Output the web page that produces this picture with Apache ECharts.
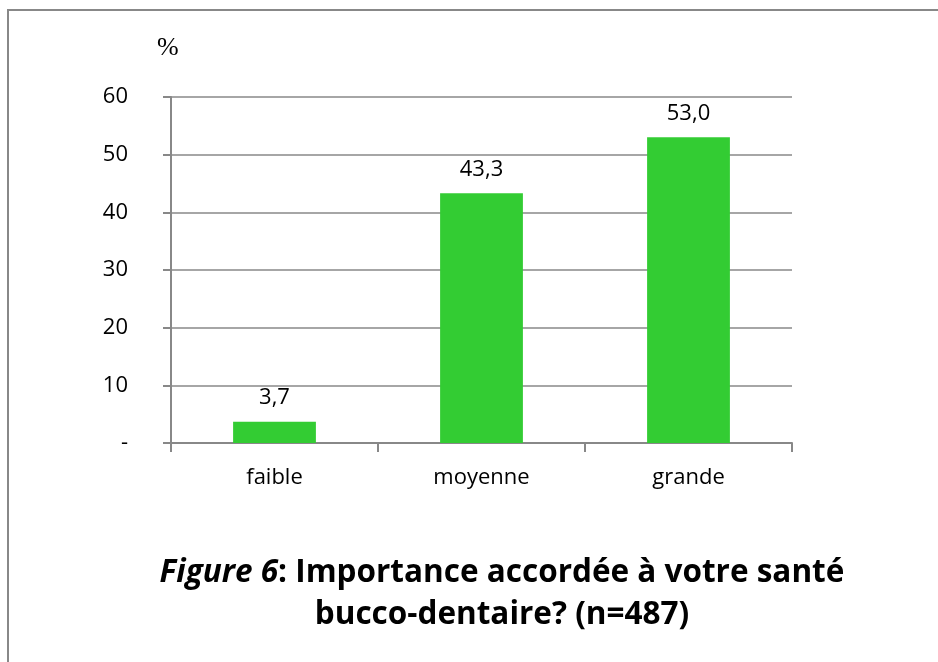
<!DOCTYPE html>
<html>
<head>
<meta charset="utf-8">
<title>Figure 6</title>
<script src="https://cdn.jsdelivr.net/npm/echarts@6/dist/echarts.min.js"></script>
<style>
  html, body { margin: 0; padding: 0; background: #fff; }
  #main { width: 938px; height: 662px; }
</style>
</head>
<body>
<div id="main"></div>
<script>
// données
var categories = ['faible', 'moyenne', 'grande'];
var values = [3.7, 43.3, 53.0];
var yTicks = [0, 10, 20, 30, 40, 50, 60];

var font = '"Open Sans", "Liberation Sans", sans-serif';
var myChart = echarts.init(document.getElementById('main'));

var option = {
  animation: false,
  backgroundColor: '#fff',
  textStyle: { fontFamily: font },
  title: {
    text: '{i|Figure 6}{b|: Importance accordée à votre santé}\n{b|bucco-dentaire? (n=487)}',
    left: 497,
    top: 547,
    textAlign: 'center',
    textStyle: {
      rich: {
        i: { fontFamily: font, fontSize: 31.5, fontWeight: 'bold', fontStyle: 'italic', color: '#000', lineHeight: 42 },
        b: { fontFamily: font, fontSize: 31.5, fontWeight: 'bold', color: '#000', lineHeight: 42 }
      }
    }
  },
  graphic: [{
    type: 'polyline',
    shape: { points: [[8, 662], [8, 10], [938, 10]] },
    style: { stroke: '#888', lineWidth: 2, fill: null }
  }, {
    type: 'text',
    left: 157,
    top: 35,
    style: { text: '%', font: '26px "Liberation Serif", serif', fill: '#000' }
  }],
  grid: { left: 171, right: 146, top: 97, bottom: 219 },
  xAxis: {
    type: 'category',
    data: categories,
    axisLine: { lineStyle: { color: '#888', width: 2 } },
    axisTick: { show: true, length: 9, lineStyle: { color: '#888', width: 2 } },
    axisLabel: { color: '#000', fontSize: 22, margin: 24, fontFamily: font }
  },
  yAxis: {
    type: 'value',
    min: 0,
    max: 60,
    interval: 10,
    axisLine: { show: true, lineStyle: { color: '#888', width: 2 } },
    axisTick: { show: true, length: 8, lineStyle: { color: '#888', width: 2 } },
    splitLine: { lineStyle: { color: '#888', width: 1.5 } },
    axisLabel: {
      color: '#000', fontSize: 22, margin: 43, fontFamily: font,
      customValues: yTicks,
      formatter: function (v) { return v === 0 ? '-' : String(v); }
    }
  },
  series: [{
    type: 'bar',
    data: values,
    barWidth: '40%',
    itemStyle: { color: '#33CC33' },
    label: {
      show: true,
      position: 'top',
      distance: 13,
      color: '#000',
      fontSize: 22,
      fontFamily: font,
      formatter: function (p) { return p.value.toFixed(1).replace('.', ','); }
    }
  }]
};

myChart.setOption(option);
</script>
</body>
</html>
